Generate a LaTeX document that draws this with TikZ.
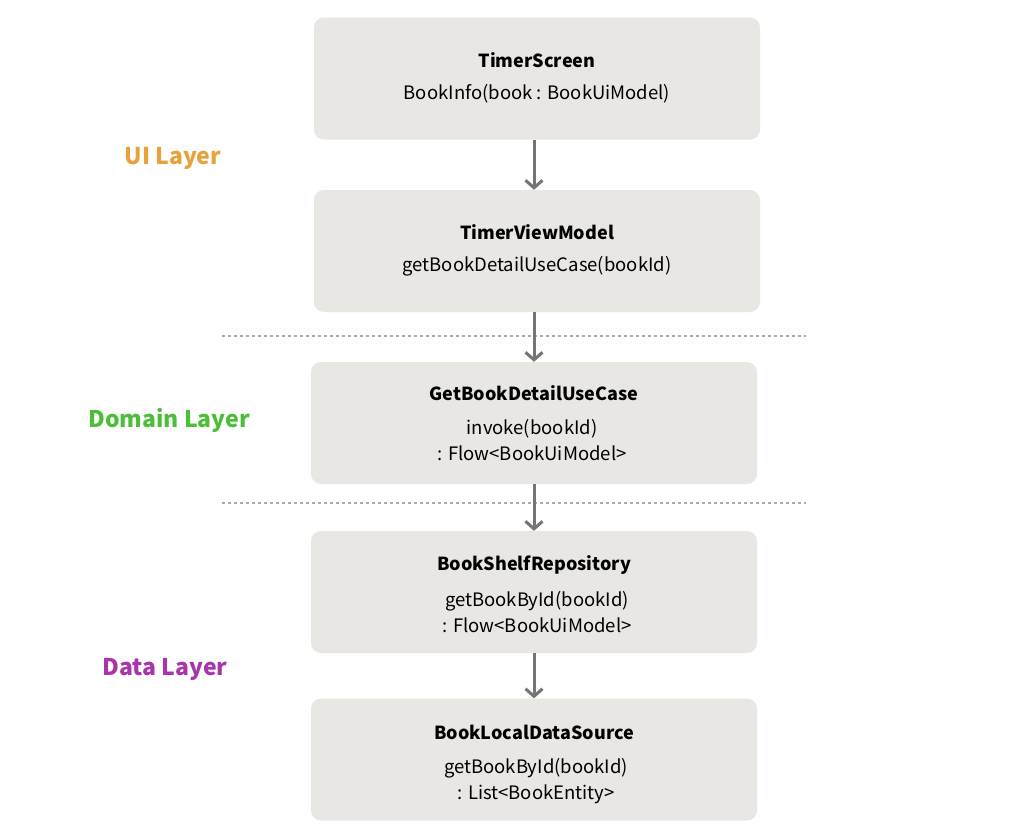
\documentclass[tikz,border=0pt]{standalone}
\usepackage{fontspec}
\setmainfont{Noto Sans CJK KR}
\usetikzlibrary{arrows.meta}
\definecolor{boxfill}{HTML}{E9E7E3}
\definecolor{arrowgray}{HTML}{757575}
\definecolor{sepgray}{HTML}{ABABAB}
\definecolor{uicol}{HTML}{E9A23B}
\definecolor{domaincol}{HTML}{4DBE3A}
\definecolor{datacol}{HTML}{A935AC}
\tikzset{
  layerbox/.style={fill=boxfill, draw=none, rounded corners=10pt, minimum width=446pt, minimum height=122pt, inner sep=0pt},
  title/.style={font=\fontsize{18}{20}\selectfont\bfseries, text=black},
  body/.style={font=\fontsize{18.5}{25.5}\selectfont, text=black, align=center},
  flow/.style={draw=arrowgray, line width=3pt, -{Straight Barb[length=7.5pt, width=17pt, line width=3pt]}},
  separator/.style={draw=sepgray, line width=2pt, dash pattern=on 3pt off 3pt},
  layer/.style={font=\fontsize{23}{25}\selectfont\bfseries}
}
\begin{document}
\begin{tikzpicture}[x=1pt, y=-1pt]
  \useasboundingbox (0,0) rectangle (1012,836);
  \fill[white] (0,0) rectangle (1012,836);

  % boxes
  \node[layerbox] (screen) at (537,78.5) {};
  \node[layerbox] (vm) at (537,251) {};
  \node[layerbox] (usecase) at (534,423) {};
  \node[layerbox] (repo) at (534,592) {};
  \node[layerbox] (local) at (534,759.5) {};

  % box texts
  \node[title] (screenT) at (537,60) {TimerScreen};
  \node[body] (screenB) at (537,94) {BookInfo(book : BookUiModel)};
  \node[title] (vmT) at (537,232) {TimerViewModel};
  \node[body] (vmB) at (537,266) {getBookDetailUseCase(bookId)};
  \node[title] (ucT) at (534,393) {GetBookDetailUseCase};
  \node[body] (ucB) at (532,440) {invoke(bookId)\\: Flow<BookUiModel>};
  \node[title] (repoT) at (534,565) {BookShelfRepository};
  \node[body] (repoB) at (537,612) {getBookById(bookId)\\: Flow<BookUiModel>};
  \node[title] (localT) at (534,732) {BookLocalDataSource};
  \node[body] (localB) at (536,781) {getBookById(bookId)\\: List<BookEntity>};

  % layer labels
  \node[layer, text=uicol] (ui) at (173,158) {UI Layer};
  \node[layer, text=domaincol] (domain) at (169,420) {Domain Layer};
  \node[layer, text=datacol] (data) at (165,669) {Data Layer};

  % layer separators
  \coordinate (s1a) at (222,336);
  \coordinate (s1b) at (806,336);
  \coordinate (s2a) at (222,503);
  \coordinate (s2b) at (806,503);
  \draw[separator] (s1a) -- (s1b);
  \draw[separator] (s2a) -- (s2b);

  % call flow
  \draw[flow] (screen.south -| 534,0) -- (vm.north -| 534,0);
  \draw[flow] (vm.south -| 534,0) -- (usecase.north -| 534,0);
  \draw[flow] (usecase.south -| 534,0) -- (repo.north -| 534,0);
  \draw[flow] (repo.south -| 534,0) -- (local.north -| 534,0);
\end{tikzpicture}
\end{document}
